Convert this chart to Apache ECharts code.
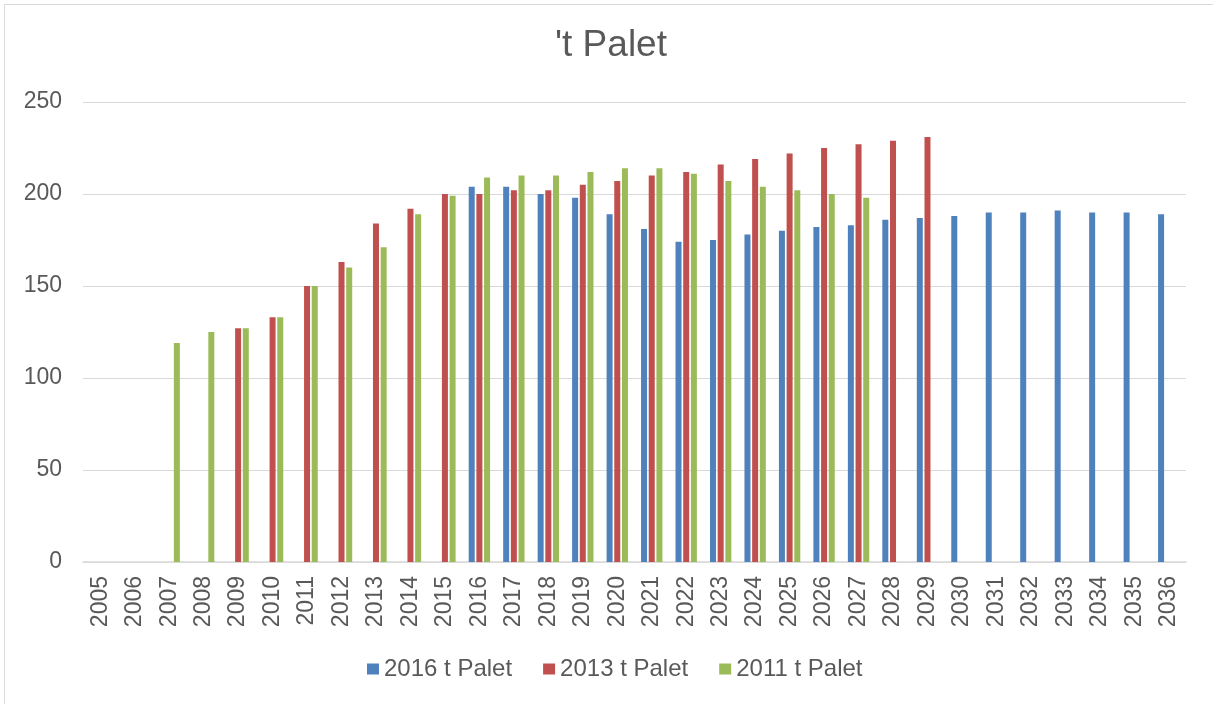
<!DOCTYPE html>
<html>
<head>
<meta charset="utf-8">
<script src="https://cdn.jsdelivr.net/npm/echarts@6/dist/echarts.min.js"></script>
<style>html,body{margin:0;padding:0;background:#fff;}#c{width:1213px;height:704px;}</style>
</head>
<body>
<div id="c"></div>
<script>
const categories = ['2005','2006','2007','2008','2009','2010','2011','2012','2013','2014','2015','2016','2017','2018','2019','2020','2021','2022','2023','2024','2025','2026','2027','2028','2029','2030','2031','2032','2033','2034','2035','2036'];
const seriesNames = ['2016 t Palet','2013 t Palet','2011 t Palet'];
const s2016 = [null,null,null,null,null,null,null,null,null,null,null,204,204,200,198,189,181,174,175,178,180,182,183,186,187,188,190,190,191,190,190,189];
const s2013 = [null,null,null,null,127,133,150,163,184,192,200,200,202,202,205,207,210,212,216,219,222,225,227,229,231,null,null,null,null,null,null,null];
const s2011 = [null,null,119,125,127,133,150,160,171,189,199,209,210,210,212,214,214,211,207,204,202,200,198,null,null,null,null,null,null,null,null,null];
const yTicks = {min:0, max:250, interval:50};

const FONT = '"Liberation Sans", Arial, sans-serif';
const TXT = '#595959';
const chart = echarts.init(document.getElementById('c'), null, {renderer:'canvas'});
const colors = ['#4F81BD','#C0504D','#9BBB59'];
const mk = (name, data, color) => ({
  name, type:'bar', data, barWidth:6, barGap:'28%',
  itemStyle:{color}, animation:false
});
chart.setOption({
  animation:false,
  textStyle:{fontFamily:FONT},
  graphic:[{type:'rect', shape:{x:4.5,y:4.5,width:1220,height:720}, style:{fill:'none',stroke:'#d9d9d9',lineWidth:1}, silent:true}],
  title:{text:"'t Palet", left:555, top:27, padding:0, textStyle:{fontFamily:FONT,fontSize:37,fontWeight:'normal',color:TXT}},
  legend:{data:seriesNames, left:367, top:657, padding:0, itemWidth:12, itemHeight:11, itemGap:31, icon:'rect',
    textStyle:{fontFamily:FONT,fontSize:24,color:TXT}},
  grid:{left:83, right:27, top:102, bottom:142, containLabel:false},
  xAxis:{type:'category', data:categories,
    axisLine:{lineStyle:{color:'#d9d9d9',width:1.5}}, axisTick:{show:false},
    axisLabel:{rotate:90, interval:0, margin:14, fontFamily:FONT, fontSize:23, color:TXT}},
  yAxis:{type:'value', min:yTicks.min, max:yTicks.max, interval:yTicks.interval,
    axisLine:{show:false}, axisTick:{show:false},
    splitLine:{lineStyle:{color:'#d9d9d9',width:1}},
    axisLabel:{margin:21, fontFamily:FONT, fontSize:23, color:TXT}},
  series:[mk(seriesNames[0], s2016, colors[0]), mk(seriesNames[1], s2013, colors[1]), mk(seriesNames[2], s2011, colors[2])]
});
</script>
</body>
</html>
